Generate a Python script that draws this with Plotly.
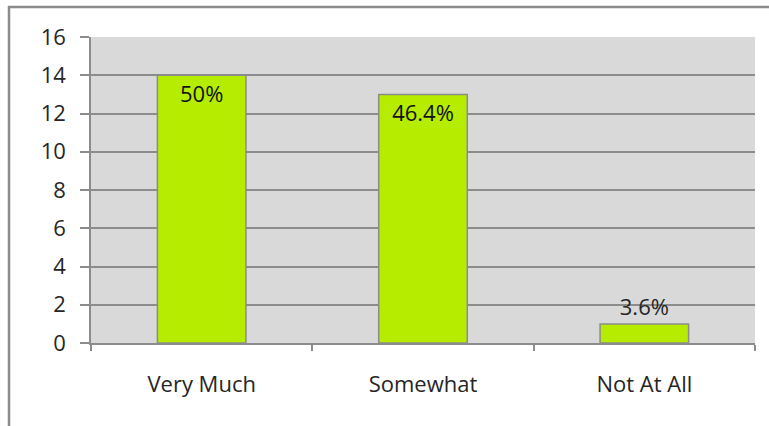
import plotly.graph_objects as go

categories = ["Very Much", "Somewhat", "Not At All"]
counts = [14, 13, 1]
labels = ["50%", "46.4%", "3.6%"]
label_positions = ["inside", "inside", "outside"]
y_ticks = [0, 2, 4, 6, 8, 10, 12, 14, 16]

W, H = 769, 426
ml, mr, mt, mb = 91, 14, 37, 83
pw, ph = W - ml - mr, H - mt - mb

def px_to_paper_x(px):
    return (px - ml) / pw

def px_to_paper_y(py):
    return (H - mb - py) / ph

font = dict(family="Open Sans, DejaVu Sans, sans-serif", size=22, color="#262626")

fig = go.Figure()
fig.add_trace(go.Bar(
    x=categories, y=counts,
    text=labels, textposition=label_positions,
    insidetextanchor="end",
    textfont=dict(family=font["family"], size=22, color="#111111"),
    outsidetextfont=dict(family=font["family"], size=22, color="#262626"),
    cliponaxis=False,
    marker=dict(color="#b5ec00", line=dict(color="#8c8c8c", width=1.5)),
    width=0.4,
))

fig.update_layout(
    width=W, height=H,
    margin=dict(l=ml, r=mr, t=mt, b=mb),
    paper_bgcolor="white",
    plot_bgcolor="#d9d9d9",
    font=font,
    showlegend=False,
    bargap=0.6,
    uniformtext=dict(minsize=10, mode="show"),
)
fig.update_yaxes(
    range=[0, 16], tickvals=y_ticks,
    showgrid=True, gridcolor="#8c8c8c", gridwidth=1.5,
    showline=True, linecolor="#8c8c8c", linewidth=1.5,
    ticks="outside", ticklen=9, tickcolor="#8c8c8c", tickwidth=1.5,
    ticklabelstandoff=10,
    zeroline=False,
)
fig.update_xaxes(
    showgrid=False,
    showline=True, linecolor="#8c8c8c", linewidth=1.5,
    ticks="outside", tickson="boundaries", ticklen=6, tickcolor="#8c8c8c", tickwidth=1.5,
    ticklabelstandoff=21,
)

border = dict(color="#8c8c8c", width=2.5)
fig.add_shape(type="line", xref="paper", yref="paper",
              x0=px_to_paper_x(8), x1=px_to_paper_x(W + 5),
              y0=px_to_paper_y(7), y1=px_to_paper_y(7), line=border)
fig.add_shape(type="line", xref="paper", yref="paper",
              x0=px_to_paper_x(9), x1=px_to_paper_x(9),
              y0=px_to_paper_y(6), y1=px_to_paper_y(H + 5), line=border)

fig.write_html("out.html")
